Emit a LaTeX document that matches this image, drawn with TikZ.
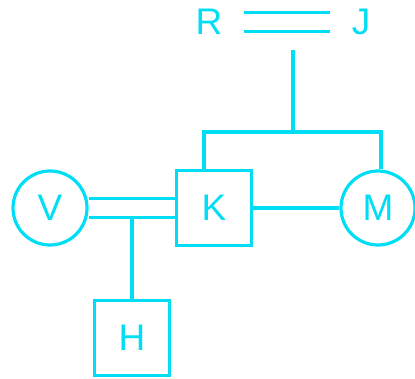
\documentclass[tikz,border=0pt]{standalone}
\usepackage{fontspec}
\setmainfont{Liberation Sans}
\usetikzlibrary{positioning}
\definecolor{famcyan}{RGB}{0,222,245}

\begin{document}
\begin{tikzpicture}[x=1pt,y=-1pt,line width=3.2pt,draw=famcyan,
  every node/.style={text=famcyan,font=\fontsize{37}{40}\selectfont},
  male/.style={draw=famcyan,rectangle,minimum size=75pt,inner sep=0pt},
  female/.style={draw=famcyan,circle,minimum size=74pt,inner sep=0pt},
  wed/.style={double=white,double distance=16pt}]
  \useasboundingbox (0,0) rectangle (415,379);

  % Draw the parents on top
  \node[inner sep=20pt] (R) at (209,22) {R};
  \node[inner sep=20pt] (J) at (361,22) {J};
  \draw[famcyan,wed] (R) -- (J);

  % Draw the children
  \node[male] (K) at (214,208) {K};
  \node[female] (M) at (378,208) {M};
  \node[female] (V) at (50,208) {V};
  \node[male] (H) at (132,338) {H};

  % Draw the lines
  \coordinate (rj) at (293,50);
  \coordinate (bar) at (293,132);
  \coordinate (hv) at (132,218);
  \draw[famcyan] (rj) -- (bar);
  \draw[famcyan] ([xshift=-10pt]K.north) |- (bar) -| ([xshift=3pt]M.north);
  \draw[famcyan,wed] (V) -- (K);
  \draw[famcyan] (K) -- (M);
  \draw[famcyan] (hv) -- (H.north);

\end{tikzpicture}
\end{document}
